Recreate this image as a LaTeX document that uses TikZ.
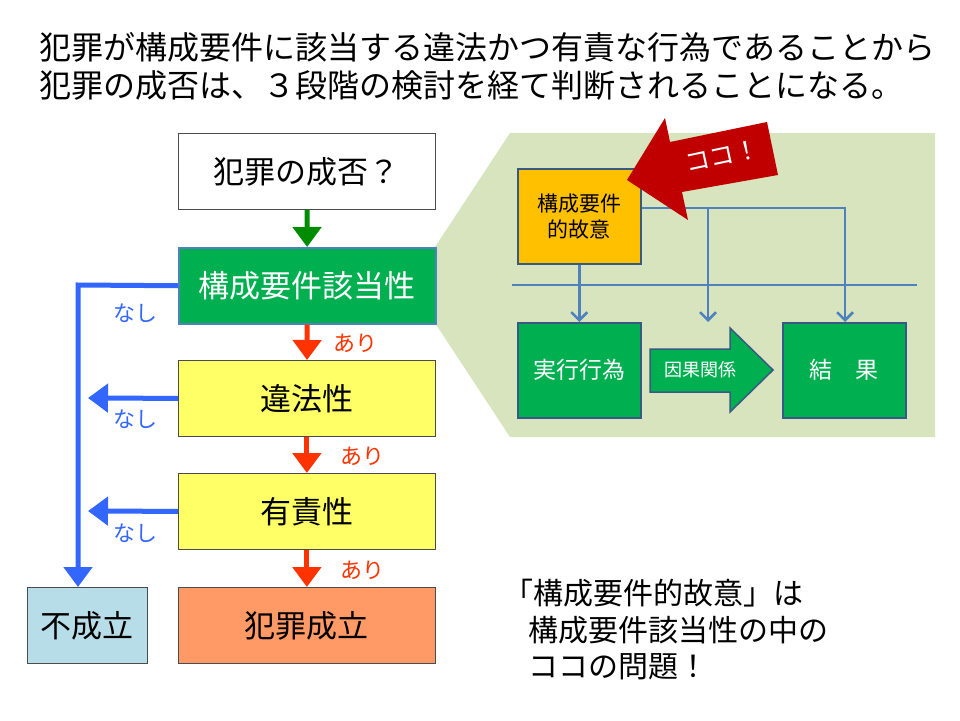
\documentclass[tikz,border=0pt]{standalone}
\usepackage{fontspec}
\setmainfont{Noto Sans CJK JP}
\usetikzlibrary{arrows.meta}
\definecolor{boxgreen}{HTML}{00B050}
\definecolor{boxyellow}{HTML}{FFFF66}
\definecolor{boxorange}{HTML}{FF9966}
\definecolor{boxblue}{HTML}{B7DEE8}
\definecolor{bggreen}{HTML}{D7E4BD}
\definecolor{intentgold}{HTML}{FFC000}
\definecolor{linkblue}{HTML}{4F81BD}
\definecolor{nonblue}{HTML}{3366FF}
\definecolor{yesred}{HTML}{FF3300}
\definecolor{cocored}{HTML}{C00000}
\tikzset{
  stage/.style={draw=black!70, line width=0.8pt, minimum width=257pt, minimum height=76pt, anchor=north west, inner sep=0pt, font=\fontsize{31}{36}\selectfont},
  small/.style={draw=linkblue!70!black, line width=1.5pt, minimum width=123pt, minimum height=95pt, anchor=north west, inner sep=0pt, fill=boxgreen, text=white, font=\fontsize{23}{27}\selectfont, align=center},
  yes/.style={yesred, line width=5pt, -{Triangle[length=20pt,width=28pt]}},
  no/.style={nonblue, line width=5pt, -{Triangle[length=20pt,width=28pt]}},
  link/.style={linkblue, line width=2.5pt, -{Straight Barb[length=8pt,width=16pt]}},
}
\begin{document}
\begin{tikzpicture}[x=1pt,y=-1pt]
\useasboundingbox (0,0) rectangle (960,720);
\node[anchor=west, font=\fontsize{32}{36}\selectfont] (t1) at (36,47) {犯罪が構成要件に該当する違法かつ有責な行為であることから};
\node[anchor=west, font=\fontsize{32}{36}\selectfont] (t2) at (36,85) {犯罪の成否は、３段階の検討を経て判断されることになる。};
% background callout
\fill[bggreen] (435,247)--(510,133)--(935,133)--(935,437)--(510,437)--(435,323)--cycle;
% main flow
\node[stage, fill=white] (q) at (178,133) {犯罪の成否？};
\node[stage, fill=boxgreen, text=white, draw=linkblue, line width=1.5pt] (kousei) at (178,247) {構成要件該当性};
\node[stage, fill=boxyellow] (ihou) at (178,360) {違法性};
\node[stage, fill=boxyellow] (yuseki) at (178,473) {有責性};
\node[stage, fill=boxorange] (seiritsu) at (178,587) {犯罪成立};
\node[stage, fill=boxblue, minimum width=120pt] (fuseiritsu) at (27,587) {不成立};
\draw[green!55!black, line width=5pt, -{Triangle[length=20pt,width=28pt]}] (q) -- (kousei);
\draw[yes] (kousei) -- (ihou);
\draw[yes] (ihou) -- (yuseki);
\draw[yes] (yuseki) -- (seiritsu);
\node[yesred, font=\fontsize{22}{26}\selectfont] (a1) at (355,343) {あり};
\node[yesred, font=\fontsize{22}{26}\selectfont] (a2) at (362,456) {あり};
\node[yesred, font=\fontsize{22}{26}\selectfont] (a3) at (362,570) {あり};
\draw[no] (kousei.west) -- (78,285) -- (fuseiritsu.north -| 78,0);
\draw[no] (ihou.west) -- (88,398);
\draw[no] (yuseki.west) -- (88,511);
\node[nonblue, font=\fontsize{22}{26}\selectfont] (n1) at (135,313) {なし};
\node[nonblue, font=\fontsize{22}{26}\selectfont] (n2) at (135,419) {なし};
\node[nonblue, font=\fontsize{22}{26}\selectfont] (n3) at (135,533) {なし};
% right detail
\draw[linkblue, line width=1.2pt] (512,285) -- (917,285);
\node[small, fill=intentgold, text=black, font=\fontsize{21}{26}\selectfont] (koi) at (517,168) {構成要件\\的故意};
\node[small] (jikko) at (517,322) {実行行為};
\node[small] (kekka) at (782,322) {結\hspace{1em}果};
\coordinate (branch) at (708,208);
\draw[link] (koi) -- (jikko);
\draw[link] (koi.east |- branch) -- (845,208) -- (kekka.north -| 845,0);
\draw[link] (branch) -- (708,322);
\draw[fill=boxgreen, draw=linkblue!70!black, line width=1.5pt] (650,349) -- (730,349) -- (730,328) -- (773,370) -- (730,412) -- (730,392) -- (650,392) -- cycle;
\node[text=white, font=\fontsize{18}{22}\selectfont] (inga) at (700,370) {因果関係};
% pointer
\fill[cocored] (627,180) -- (665,118) -- (670,142) -- (767,122) -- (778,175) -- (682,192) -- (688,220) -- cycle;
\node[text=white, rotate=12, inner sep=0pt, font=\fontsize{25}{28}\selectfont] (coco) at (722,156) {ココ！};
% note
\node[anchor=west, font=\fontsize{30}{34}\selectfont] (m1) at (500,593) {「構成要件的故意」は};
\node[anchor=west, font=\fontsize{30}{34}\selectfont] (m2) at (525,630) {構成要件該当性の中の};
\node[anchor=west, font=\fontsize{30}{34}\selectfont] (m3) at (525,667) {ココの問題！};
\end{tikzpicture}
\end{document}
